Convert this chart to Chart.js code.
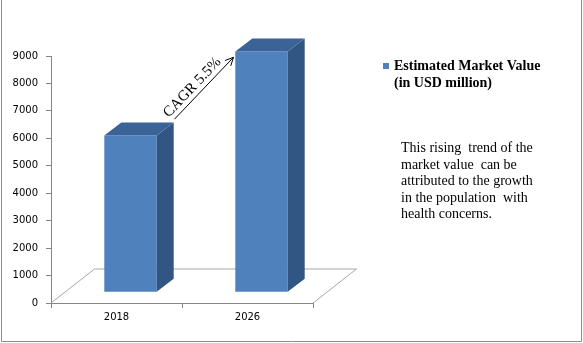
<!DOCTYPE html>
<html>
<head>
<meta charset="utf-8">
<script src="https://cdn.jsdelivr.net/npm/chart.js"></script>
<style>
  html, body { margin: 0; padding: 0; background: #fff; }
  #wrap { width: 583px; height: 343px; position: relative; }
</style>
</head>
<body>
<div id="wrap"><canvas id="myChart"></canvas></div>
<script>
// Chart data
const categories = ['2018', '2026'];
const marketValues = [5714, 8770];
const yTickValues = [0, 1000, 2000, 3000, 4000, 5000, 6000, 7000, 8000, 9000];
const seriesLabel = ['Estimated Market Value', '(in USD million)'];
const cagrLabel = 'CAGR 5.5%';
const noteLines = [
  'This rising  trend of the',
  'market value  can be',
  'attributed to the growth',
  'in the population  with',
  'health concerns.'
];

// Colors
const FRONT_COLOR = '#4f81bd';
const TOP_COLOR = '#3c6397';
const SIDE_COLOR = '#325683';
const AXIS_COLOR = '#868686';
const FLOOR_COLOR = '#a6a6a6';

// 3D offsets: floor depth, front plane of the bars, bar depth
const FLOOR_DEPTH = { x: 43.5, y: -34 };
const BAR_FRONT = { x: 14, y: -10.7 };
const BAR_DEPTH = { x: 17, y: -13 };

const ctx = document.getElementById('myChart').getContext('2d');

// Draws the floor, the side/top faces, the legend and the notes
const threeDPlugin = {
  id: 'threeD',
  beforeDatasetsDraw(chart) {
    const c = chart.ctx;
    const area = chart.chartArea;
    c.save();
    c.strokeStyle = FLOOR_COLOR;
    c.lineWidth = 1;
    c.beginPath();
    c.moveTo(area.left, area.bottom);
    c.lineTo(area.left + FLOOR_DEPTH.x, area.bottom + FLOOR_DEPTH.y);
    c.lineTo(area.right + FLOOR_DEPTH.x, area.bottom + FLOOR_DEPTH.y);
    c.lineTo(area.right, area.bottom);
    c.stroke();
    c.restore();

    // the front faces are drawn by Chart.js, moved back into the floor
    c.save();
    c.translate(BAR_FRONT.x, BAR_FRONT.y);
  },
  afterDatasetsDraw(chart) {
    const c = chart.ctx;
    c.restore();

    const meta = chart.getDatasetMeta(0);
    meta.data.forEach((bar) => {
      const left = bar.x - bar.width / 2 + BAR_FRONT.x;
      const right = bar.x + bar.width / 2 + BAR_FRONT.x;
      const top = bar.y + BAR_FRONT.y;
      const bottom = bar.base + BAR_FRONT.y;

      // side face
      c.fillStyle = SIDE_COLOR;
      c.beginPath();
      c.moveTo(right, top);
      c.lineTo(right + BAR_DEPTH.x, top + BAR_DEPTH.y);
      c.lineTo(right + BAR_DEPTH.x, bottom + BAR_DEPTH.y);
      c.lineTo(right, bottom);
      c.closePath();
      c.fill();

      // top face
      c.fillStyle = TOP_COLOR;
      c.beginPath();
      c.moveTo(left, top);
      c.lineTo(left + BAR_DEPTH.x, top + BAR_DEPTH.y);
      c.lineTo(right + BAR_DEPTH.x, top + BAR_DEPTH.y);
      c.lineTo(right, top);
      c.closePath();
      c.fill();
    });
  },
  afterDraw(chart) {
    const c = chart.ctx;
    const xScale = chart.scales.x;
    const yScale = chart.scales.y;
    c.save();

    // outer frame
    c.strokeStyle = '#8c8c8c';
    c.lineWidth = 1;
    c.beginPath();
    c.moveTo(1.5, 0);
    c.lineTo(1.5, 341.5);
    c.lineTo(581.5, 341.5);
    c.lineTo(581.5, 0);
    c.stroke();

    // CAGR arrow between the two bars
    const start = {
      x: xScale.getPixelForValue(0) + 58,
      y: yScale.getPixelForValue(marketValues[0]) - 27
    };
    const end = {
      x: xScale.getPixelForValue(1) - 14,
      y: yScale.getPixelForValue(marketValues[1]) - 5
    };
    const angle = Math.atan2(end.y - start.y, end.x - start.x);
    c.strokeStyle = '#000';
    c.lineWidth = 1;
    c.beginPath();
    c.moveTo(start.x, start.y);
    c.lineTo(end.x, end.y);
    c.moveTo(end.x - 9 * Math.cos(angle - 0.45), end.y - 9 * Math.sin(angle - 0.45));
    c.lineTo(end.x, end.y);
    c.lineTo(end.x - 9 * Math.cos(angle + 0.45), end.y - 9 * Math.sin(angle + 0.45));
    c.stroke();

    c.save();
    c.translate(start.x + 5 * Math.sin(angle), start.y - 5 * Math.cos(angle));
    c.rotate(angle);
    c.fillStyle = '#000';
    c.font = '15px "Liberation Serif"';
    c.textAlign = 'left';
    c.textBaseline = 'alphabetic';
    c.fillText(cagrLabel, -3, 0);
    c.restore();

    // legend
    c.fillStyle = FRONT_COLOR;
    c.fillRect(383, 63, 6, 6);
    c.fillStyle = '#000';
    c.font = 'bold 14px "Liberation Serif"';
    c.textAlign = 'left';
    c.textBaseline = 'alphabetic';
    seriesLabel.forEach((line, i) => {
      c.fillText(line, 394, 70 + i * 16.5);
    });

    // note text
    c.font = '14px "Liberation Serif"';
    noteLines.forEach((line, i) => {
      c.fillText(line, 401, 152 + i * 16.5);
    });

    c.restore();
  }
};

const marketChart = new Chart(ctx, {
  type: 'bar',
  data: {
    labels: categories,
    datasets: [{
      label: seriesLabel.join(' '),
      data: marketValues,
      backgroundColor: FRONT_COLOR,
      borderWidth: 0,
      categoryPercentage: 1,
      barPercentage: 0.4,
      clip: false
    }]
  },
  options: {
    responsive: true,
    maintainAspectRatio: false,
    animation: false,
    layout: {
      padding: { left: 0, top: 56, right: 270, bottom: 0 }
    },
    plugins: {
      legend: { display: false },
      tooltip: { enabled: false }
    },
    scales: {
      x: {
        offset: true,
        grid: {
          offset: true,
          drawOnChartArea: false,
          drawTicks: true,
          tickLength: 5,
          color: AXIS_COLOR
        },
        border: { color: AXIS_COLOR },
        ticks: {
          color: '#000',
          padding: 3,
          font: { family: 'DejaVu Sans', size: 10 }
        },
        afterFit(scale) {
          scale.height = 40;
        }
      },
      y: {
        min: 0,
        max: 9000,
        afterBuildTicks(scale) {
          scale.ticks = yTickValues.map(v => ({ value: v }));
        },
        grid: {
          drawOnChartArea: false,
          drawTicks: true,
          tickLength: 5,
          color: AXIS_COLOR
        },
        border: { color: AXIS_COLOR },
        ticks: {
          color: '#000',
          padding: 8,
          font: { family: 'DejaVu Sans', size: 10 },
          callback: (value) => String(value)
        },
        afterFit(scale) {
          scale.width = 51;
        }
      }
    }
  },
  plugins: [threeDPlugin]
});
</script>
</body>
</html>
